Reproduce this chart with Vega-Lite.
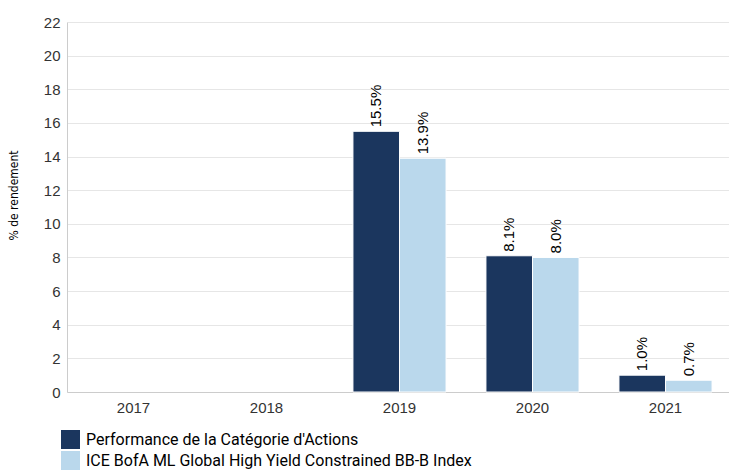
{
  "$schema": "https://vega.github.io/schema/vega-lite/v6.json",
  "width": 665,
  "height": 370,
  "autosize": {"type": "none"},
  "padding": {"left": 67, "top": 22, "right": 0, "bottom": 78},
  "background": "white",
  "config": {"view": {"stroke": null}},
  "data": {
    "values": [
      {"year": "2019", "series": "Performance de la Catégorie d'Actions", "value": 15.5, "label": "15.5%"},
      {"year": "2019", "series": "ICE BofA ML Global High Yield Constrained BB-B Index", "value": 13.9, "label": "13.9%"},
      {"year": "2020", "series": "Performance de la Catégorie d'Actions", "value": 8.1, "label": "8.1%"},
      {"year": "2020", "series": "ICE BofA ML Global High Yield Constrained BB-B Index", "value": 8.0, "label": "8.0%"},
      {"year": "2021", "series": "Performance de la Catégorie d'Actions", "value": 1.0, "label": "1.0%"},
      {"year": "2021", "series": "ICE BofA ML Global High Yield Constrained BB-B Index", "value": 0.7, "label": "0.7%"}
    ]
  },
  "encoding": {
    "x": {
      "field": "year", "type": "nominal",
      "scale": {"domain": ["2017", "2018", "2019", "2020", "2021"], "paddingInner": 0.3, "paddingOuter": 0.15},
      "axis": {"title": null, "labelAngle": 0, "labelFont": "Liberation Sans", "labelFontSize": 15, "labelColor": "#333333", "ticks": false, "domainColor": "#cccccc", "labelPadding": 8}
    },
    "xOffset": {
      "field": "series", "type": "nominal",
      "scale": {"domain": ["Performance de la Catégorie d'Actions", "ICE BofA ML Global High Yield Constrained BB-B Index"], "paddingInner": 0}
    },
    "y": {
      "field": "value", "type": "quantitative",
      "scale": {"domain": [0, 22], "nice": false},
      "axis": {"title": "% de rendement", "titleFont": "DejaVu Sans Condensed", "titleFontSize": 12, "titleFontWeight": "normal", "titleColor": "#000000", "titleX": -47, "titleY": 173, "titleBaseline": "bottom", "values": [0,2,4,6,8,10,12,14,16,18,20,22], "labelFont": "Liberation Sans", "labelFontSize": 15, "labelColor": "#333333", "ticks": false, "domain": true, "domainColor": "#cccccc", "gridColor": "#e6e6e6", "labelPadding": 7}
    }
  },
  "layer": [
    {
      "mark": {"type": "bar", "stroke": "white", "strokeWidth": 1},
      "encoding": {
        "color": {
          "field": "series", "type": "nominal",
          "scale": {"domain": ["Performance de la Catégorie d'Actions", "ICE BofA ML Global High Yield Constrained BB-B Index"], "range": ["#1b365e", "#bad8ec"]},
          "legend": {"title": null, "orient": "none", "legendX": -6, "legendY": 408, "direction": "vertical", "symbolType": "square", "symbolSize": 360, "symbolStrokeWidth": 0, "labelFont": "Roboto", "labelFontSize": 16, "labelColor": "#000000", "rowPadding": 2, "labelOffset": 6, "labelLimit": 600}
        }
      }
    },
    {
      "mark": {"type": "text", "angle": -90, "align": "left", "baseline": "middle", "dx": 4, "font": "Liberation Sans", "fontSize": 15, "color": "#000000"},
      "encoding": {"text": {"field": "label"}}
    }
  ]
}
